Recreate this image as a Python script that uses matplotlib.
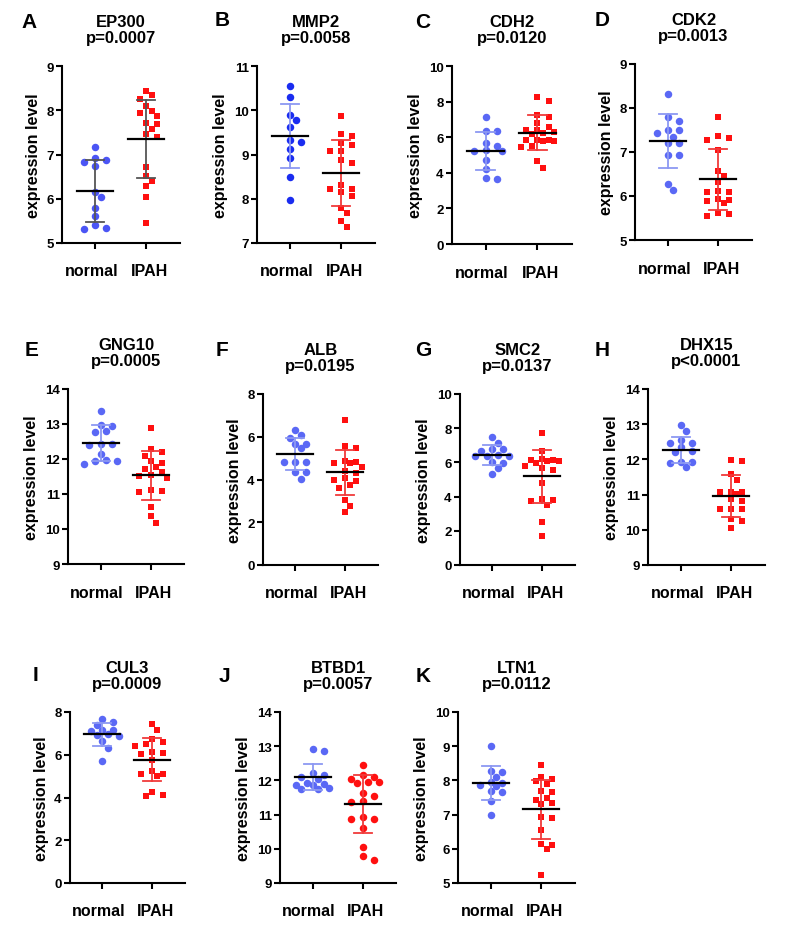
import numpy as np
import matplotlib
matplotlib.use("Agg")
import matplotlib.pyplot as plt

plt.rcParams['font.family'] = ['Liberation Sans', 'DejaVu Sans']
plt.rcParams['font.weight'] = 'bold'

# values (normal / IPAH), plus mean and SD per group
genes = ["EP300", "MMP2", "CDH2", "CDK2", "GNG10", "ALB", "SMC2", "DHX15", "CUL3", "BTBD1", "LTN1"]
letters = ["A", "B", "C", "D", "E", "F", "G", "H", "I", "J", "K"]
pvals = ["p=0.0007", "p=0.0058", "p=0.0120", "p=0.0013", "p=0.0005", "p=0.0195",
         "p=0.0137", "p<0.0001", "p=0.0009", "p=0.0057", "p=0.0112"]
groups = ["normal", "IPAH"]

ep300_normal = [7.16, 6.87, 6.92, 6.84, 6.73, 6.16, 6.03, 5.80, 5.62, 5.41, 5.35, 5.32]
ep300_ipah = [8.44, 8.34, 8.25, 8.10, 7.98, 7.93, 7.87, 7.68, 7.71, 7.57, 7.47, 7.40,
              6.71, 6.52, 6.41, 6.29, 6.05, 5.45]
mmp2_normal = [10.55, 10.30, 9.89, 9.79, 9.62, 9.33, 9.28, 9.13, 8.92, 8.50, 7.97]
mmp2_ipah = [9.87, 9.46, 9.41, 9.21, 9.27, 9.07, 9.07, 8.81, 8.88, 8.31, 8.16, 8.23,
             8.22, 8.07, 7.80, 7.67, 7.50, 7.37]
cdh2_normal = [7.12, 6.35, 6.35, 5.70, 5.50, 5.30, 5.25, 5.22, 4.70, 4.20, 3.70, 3.63]
cdh2_ipah = [8.26, 8.04, 7.23, 7.16, 6.82, 6.60, 6.41, 6.39, 6.30, 6.25, 6.20, 5.85,
             5.83, 5.82, 5.80, 5.78, 5.50, 5.45, 4.64, 4.26]
cdk2_normal = [8.32, 7.79, 7.71, 7.50, 7.50, 7.43, 7.35, 7.20, 7.20, 6.94, 6.94, 6.28, 6.13]
cdk2_ipah = [7.79, 7.37, 7.31, 7.28, 7.05, 6.57, 6.46, 6.31, 6.12, 6.09, 6.08, 5.89,
             5.85, 5.90, 5.94, 5.61, 5.58, 5.55]
gng10_normal = [13.36, 12.95, 12.97, 12.80, 12.76, 12.44, 12.40, 12.42, 12.13, 11.96,
                11.95, 11.94, 11.85]
gng10_ipah = [12.90, 12.29, 12.21, 12.10, 11.93, 11.88, 11.76, 11.71, 11.63, 11.55,
              11.52, 11.45, 11.10, 11.07, 11.12, 10.64, 10.36, 10.16]
alb_normal = [6.30, 6.08, 5.92, 5.66, 5.66, 5.46, 4.83, 4.83, 4.80, 4.33, 4.33, 4.02]
alb_ipah = [6.78, 5.58, 5.47, 4.88, 4.83, 4.76, 4.76, 4.57, 4.38, 4.30, 4.05, 3.98,
            3.95, 3.75, 3.60, 3.05, 2.75, 2.50]
smc2_normal = [7.47, 7.13, 6.80, 6.78, 6.68, 6.40, 6.39, 6.35, 6.43, 6.05, 5.95, 5.65, 5.35]
smc2_ipah = [7.70, 6.69, 6.20, 6.14, 6.15, 6.08, 6.06, 5.95, 5.81, 5.65, 5.55, 4.80,
             3.86, 3.76, 3.80, 3.53, 2.53, 1.68]
dhx15_normal = [12.98, 12.81, 12.46, 12.46, 12.54, 12.34, 12.20, 12.23, 11.93, 11.94,
                11.91, 11.77]
dhx15_ipah = [11.99, 11.96, 11.58, 11.41, 11.06, 11.08, 11.06, 10.87, 10.82, 10.58,
              10.58, 10.60, 10.30, 10.25, 10.06, 11.02]
cul3_normal = [7.69, 7.53, 7.41, 7.14, 7.14, 7.12, 6.95, 6.92, 6.88, 6.63, 6.31, 5.70]
cul3_ipah = [7.45, 7.14, 6.75, 6.59, 6.48, 6.41, 6.13, 6.10, 6.02, 5.77, 5.22, 5.11,
             5.08, 5.00, 4.28, 4.14, 4.06]
btbd1_normal = [12.93, 12.85, 12.22, 12.15, 12.10, 12.03, 11.92, 11.90, 11.88, 11.86,
                11.78, 11.75, 11.74]
btbd1_ipah = [12.44, 12.15, 12.10, 12.05, 11.96, 11.95, 11.93, 11.62, 11.55, 11.41,
              11.38, 10.93, 10.87, 10.87, 10.61, 10.04, 9.78, 9.68]
ltn1_normal = [9.00, 8.27, 8.24, 8.11, 7.95, 7.93, 7.87, 7.85, 7.68, 7.66, 7.41, 6.99]
ltn1_ipah = [8.44, 8.10, 8.03, 7.97, 7.90, 7.68, 7.66, 7.48, 7.43, 7.34, 7.30, 6.89,
             6.92, 6.55, 6.14, 6.11, 5.98, 5.24]

# mean, SD for normal and IPAH
normal_mean = [6.18, 9.41, 5.23, 7.25, 12.46, 5.19, 6.43, 12.27, 6.95, 12.10, 7.93]
normal_sd = [0.70, 0.72, 1.07, 0.62, 0.52, 0.74, 0.59, 0.36, 0.52, 0.39, 0.50]
ipah_mean = [7.35, 8.58, 6.26, 6.38, 11.54, 4.33, 5.19, 10.96, 5.77, 11.31, 7.15]
ipah_sd = [0.88, 0.74, 1.00, 0.69, 0.70, 1.04, 1.55, 0.59, 1.00, 0.84, 0.87]

ylims = [(5, 9), (7, 11), (0, 10), (5, 9), (9, 14), (0, 8), (0, 10), (9, 14), (0, 8), (9, 14), (5, 10)]
ysteps = [1, 1, 2, 1, 1, 2, 2, 1, 2, 1, 1]

normals = [ep300_normal, mmp2_normal, cdh2_normal, cdk2_normal, gng10_normal, alb_normal,
           smc2_normal, dhx15_normal, cul3_normal, btbd1_normal, ltn1_normal]
ipahs = [ep300_ipah, mmp2_ipah, cdh2_ipah, cdk2_ipah, gng10_ipah, alb_ipah,
         smc2_ipah, dhx15_ipah, cul3_ipah, btbd1_ipah, ltn1_ipah]

# axes rectangles in pixels: x0, x1, ytop, ybot
W, H = 787, 928
rects = [(62, 180, 67, 244), (257, 375, 67, 244), (452, 572, 67, 245), (635, 752, 65, 241),
         (68, 184, 390, 565), (263, 378, 395, 566), (460, 575, 395, 566), (648, 765, 390, 566),
         (70, 185, 713, 884), (280, 396, 713, 884), (458, 575, 713, 884)]
letter_pos = [(29, 23), (222, 21), (423, 22), (602, 21), (32, 350), (222, 350), (423, 350),
              (602, 350), (35, 676), (224, 677), (423, 677)]

blue = '#5a68f5'
red = '#ff1010'
XLIM = (0.35, 2.67)


def swarm(vals, ypx_per_unit, xpx_per_unit, diam, step):
    # simple beeswarm in pixel space
    order = np.argsort(vals)[::-1]
    placed = []
    offs = np.zeros(len(vals))
    for i in order:
        y = vals[i] * ypx_per_unit
        ok = 0.0
        for k in range(0, 4):
            cands = [0.0] if k == 0 else [k * step, -k * step]
            hit = [c for c in cands
                   if all((c - px) ** 2 + (y - py) ** 2 >= diam ** 2 for px, py in placed)]
            if hit:
                ok = hit[0]
                break
            # crowded: fall back to the least crowded slot
            if k == 3:
                slots = [0.0] + [j * step * s for j in (1, 2, 3) for s in (1, -1)]
                ok = max(slots, key=lambda c: min((c - px) ** 2 + (y - py) ** 2
                                                  for px, py in placed))
        placed.append((ok, y))
        offs[i] = ok / xpx_per_unit
    return offs


fig = plt.figure(figsize=(W / 100, H / 100), dpi=100)

for i in range(len(genes)):
    x0, x1, yt, yb = rects[i]
    ax = fig.add_axes([x0 / W, 1 - yb / H, (x1 - x0) / W, (yb - yt) / H])
    lo, hi = ylims[i]
    ypu = (yb - yt) / (hi - lo)
    xpu = (x1 - x0) / (XLIM[1] - XLIM[0])

    nc = '#4b55f5' if i == 0 else ('#1a2cf0' if i == 1 else blue)
    if i == 0:
        nsd, isd = '#555555', '#555555'
    else:
        nsd, isd = '#8c98f2', '#f03a3a'
    imark = 'o' if genes[i] == "BTBD1" else 's'

    for g, (vals, col, mk, m, s, sdc) in enumerate([
            (normals[i], nc, 'o', normal_mean[i], normal_sd[i], nsd),
            (ipahs[i], red, imark, ipah_mean[i], ipah_sd[i], isd)]):
        xc = g + 1
        v = np.array(vals)
        offs = swarm(v, ypu, xpu, 7.0, 5.6)
        ms = 5.4 if mk == 'o' else 4.6
        ax.plot(xc + offs, v, linestyle='none', marker=mk, ms=ms, color=col,
                markeredgewidth=0, zorder=2)
        ax.plot([xc, xc], [m - s, m + s], color=sdc, lw=1.3, zorder=3)
        for e in (m - s, m + s):
            ax.plot([xc - 0.18, xc + 0.18], [e, e], color=sdc, lw=1.3, zorder=3)
        ax.plot([xc - 0.36, xc + 0.36], [m, m], color='black', lw=1.6, zorder=4)

    ax.set_xlim(*XLIM)
    ax.set_ylim(lo, hi)
    ax.set_yticks(np.arange(lo, hi + 0.01, ysteps[i]))
    ax.set_xticks([1, 2])
    ax.set_xticklabels([])
    for g, dx in ((0, -0.07), (1, 0.07)):
        ax.text(g + 1 + dx, -28 / (yb - yt), groups[g], transform=ax.get_xaxis_transform(),
                ha='center', va='center', fontsize=11.5, fontweight='bold')
    for lab in ax.get_yticklabels():
        lab.set_fontsize(9.5)
        lab.set_fontweight('bold')
    ax.spines['top'].set_visible(False)
    ax.spines['right'].set_visible(False)
    ax.spines['left'].set_linewidth(1.5)
    ax.spines['bottom'].set_linewidth(1.5)
    ax.tick_params(axis='both', width=1.5, length=4, color='black')
    ax.tick_params(axis='y', pad=2)
    ax.set_ylabel("expression level", fontsize=11.5, fontweight='bold', labelpad=4)
    ax.set_title(genes[i] + "\n" + pvals[i], fontsize=12, fontweight='bold', pad=17,
                 linespacing=1.15)
    ax.patch.set_alpha(0)

    lx, ly = letter_pos[i]
    fig.text(lx / W, 1 - ly / H, letters[i], fontsize=15, fontweight='bold',
             ha='center', va='center')

fig.savefig("out.png", dpi=100, facecolor='white')
